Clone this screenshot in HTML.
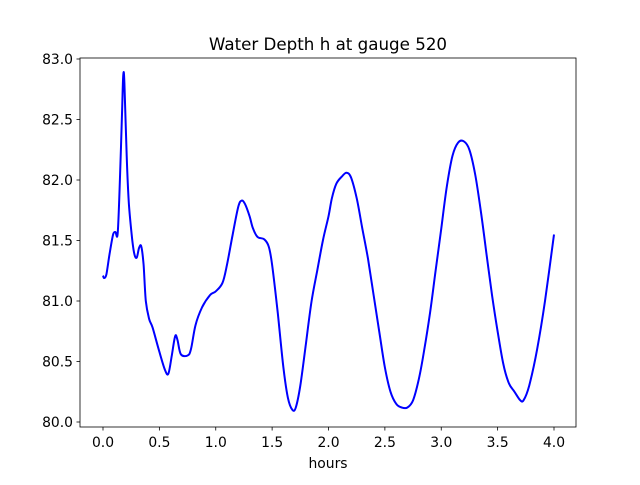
<!DOCTYPE html>
<html><head><meta charset="utf-8"><style>
html,body{margin:0;padding:0;background:#fff;}
svg text{font-family:"DejaVu Sans","Liberation Sans",sans-serif;font-size:13.9px;fill:#000;}
</style></head><body>
<svg id="s" width="640" height="480" viewBox="0 0 640 480" xmlns="http://www.w3.org/2000/svg">
<rect width="640" height="480" fill="#fff"/>
<text x="328" y="50" text-anchor="middle" style="font-size:16.7px">Water Depth h at gauge 520</text>
<g id="ticks" stroke="#000" stroke-width="0.8"></g>
<g id="labels"></g>
<path id="line" fill="none" stroke="#0000ff" stroke-width="2" stroke-linejoin="round"/>
<rect x="80" y="58" width="496" height="369" fill="none" stroke="#000" stroke-width="0.8"/>
<text x="328" y="468" text-anchor="middle">hours</text>
</svg>
<script>
var X=function(t){return 103+112.75*t;},Y=function(v){return 59+(83-v)*121;};
var d=[[0,81.21],[0.01,81.19],[0.03,81.22],[0.06,81.4],[0.09,81.55],[0.11,81.57],[0.13,81.56],[0.15,82.0],[0.17,82.6],[0.18,82.87],[0.19,82.8],[0.21,82.2],[0.23,81.8],[0.26,81.5],[0.28,81.38],[0.3,81.36],[0.32,81.44],[0.34,81.45],[0.36,81.3],[0.38,81.0],[0.41,80.85],[0.44,80.78],[0.5,80.58],[0.55,80.43],[0.58,80.4],[0.61,80.55],[0.64,80.71],[0.66,80.68],[0.69,80.56],[0.75,80.55],[0.78,80.6],[0.82,80.8],[0.88,80.95],[0.95,81.05],[1.0,81.08],[1.06,81.15],[1.1,81.3],[1.15,81.55],[1.2,81.78],[1.23,81.83],[1.26,81.8],[1.3,81.7],[1.33,81.6],[1.37,81.53],[1.43,81.51],[1.47,81.45],[1.5,81.3],[1.55,80.9],[1.6,80.45],[1.64,80.2],[1.68,80.1],[1.71,80.12],[1.75,80.3],[1.8,80.65],[1.85,81.0],[1.9,81.25],[1.95,81.5],[2.0,81.7],[2.03,81.85],[2.07,81.97],[2.12,82.03],[2.16,82.06],[2.2,82.02],[2.25,81.85],[2.3,81.6],[2.35,81.35],[2.4,81.05],[2.45,80.75],[2.5,80.45],[2.55,80.25],[2.6,80.15],[2.65,80.12],[2.7,80.12],[2.75,80.18],[2.8,80.35],[2.85,80.6],[2.9,80.9],[2.95,81.25],[3.0,81.6],[3.05,81.95],[3.1,82.2],[3.15,82.31],[3.2,82.32],[3.25,82.25],[3.3,82.05],[3.35,81.75],[3.4,81.4],[3.45,81.05],[3.5,80.75],[3.55,80.48],[3.6,80.32],[3.65,80.25],[3.7,80.18],[3.73,80.18],[3.78,80.3],[3.85,80.6],[3.92,81.0],[4.0,81.55]];
var P=d.map(function(p){return [X(p[0]),Y(p[1])];});
var s='M'+P[0][0].toFixed(1)+','+P[0][1].toFixed(1);
for(var i=0;i<P.length-1;i++){var p0=P[i>0?i-1:i],p1=P[i],p2=P[i+1],p3=P[i+2<P.length?i+2:i+1];
var c1=[p1[0]+(p2[0]-p0[0])/6,p1[1]+(p2[1]-p0[1])/6],c2=[p2[0]-(p3[0]-p1[0])/6,p2[1]-(p3[1]-p1[1])/6];
s+=' C'+c1[0].toFixed(1)+','+c1[1].toFixed(1)+' '+c2[0].toFixed(1)+','+c2[1].toFixed(1)+' '+p2[0].toFixed(1)+','+p2[1].toFixed(1);}
document.getElementById('line').setAttribute('d',s);
var ns='http://www.w3.org/2000/svg',tk=document.getElementById('ticks'),lb=document.getElementById('labels');
function el(par,n,a,txt){var e=document.createElementNS(ns,n);for(var k in a)e.setAttribute(k,a[k]);if(txt)e.textContent=txt;par.appendChild(e);}
for(var i=0;i<=8;i++){var t=i*0.5,x=X(t);el(tk,'line',{x1:x,y1:427,x2:x,y2:430.5});el(lb,'text',{x:x,y:447,'text-anchor':'middle'},t.toFixed(1));}
for(var i=0;i<=6;i++){var v=80+i*0.5,y=Y(v);el(tk,'line',{x1:76.5,y1:y,x2:80,y2:y});el(lb,'text',{x:73,y:y+5,'text-anchor':'end'},v.toFixed(1));}
</script>
</body></html>
